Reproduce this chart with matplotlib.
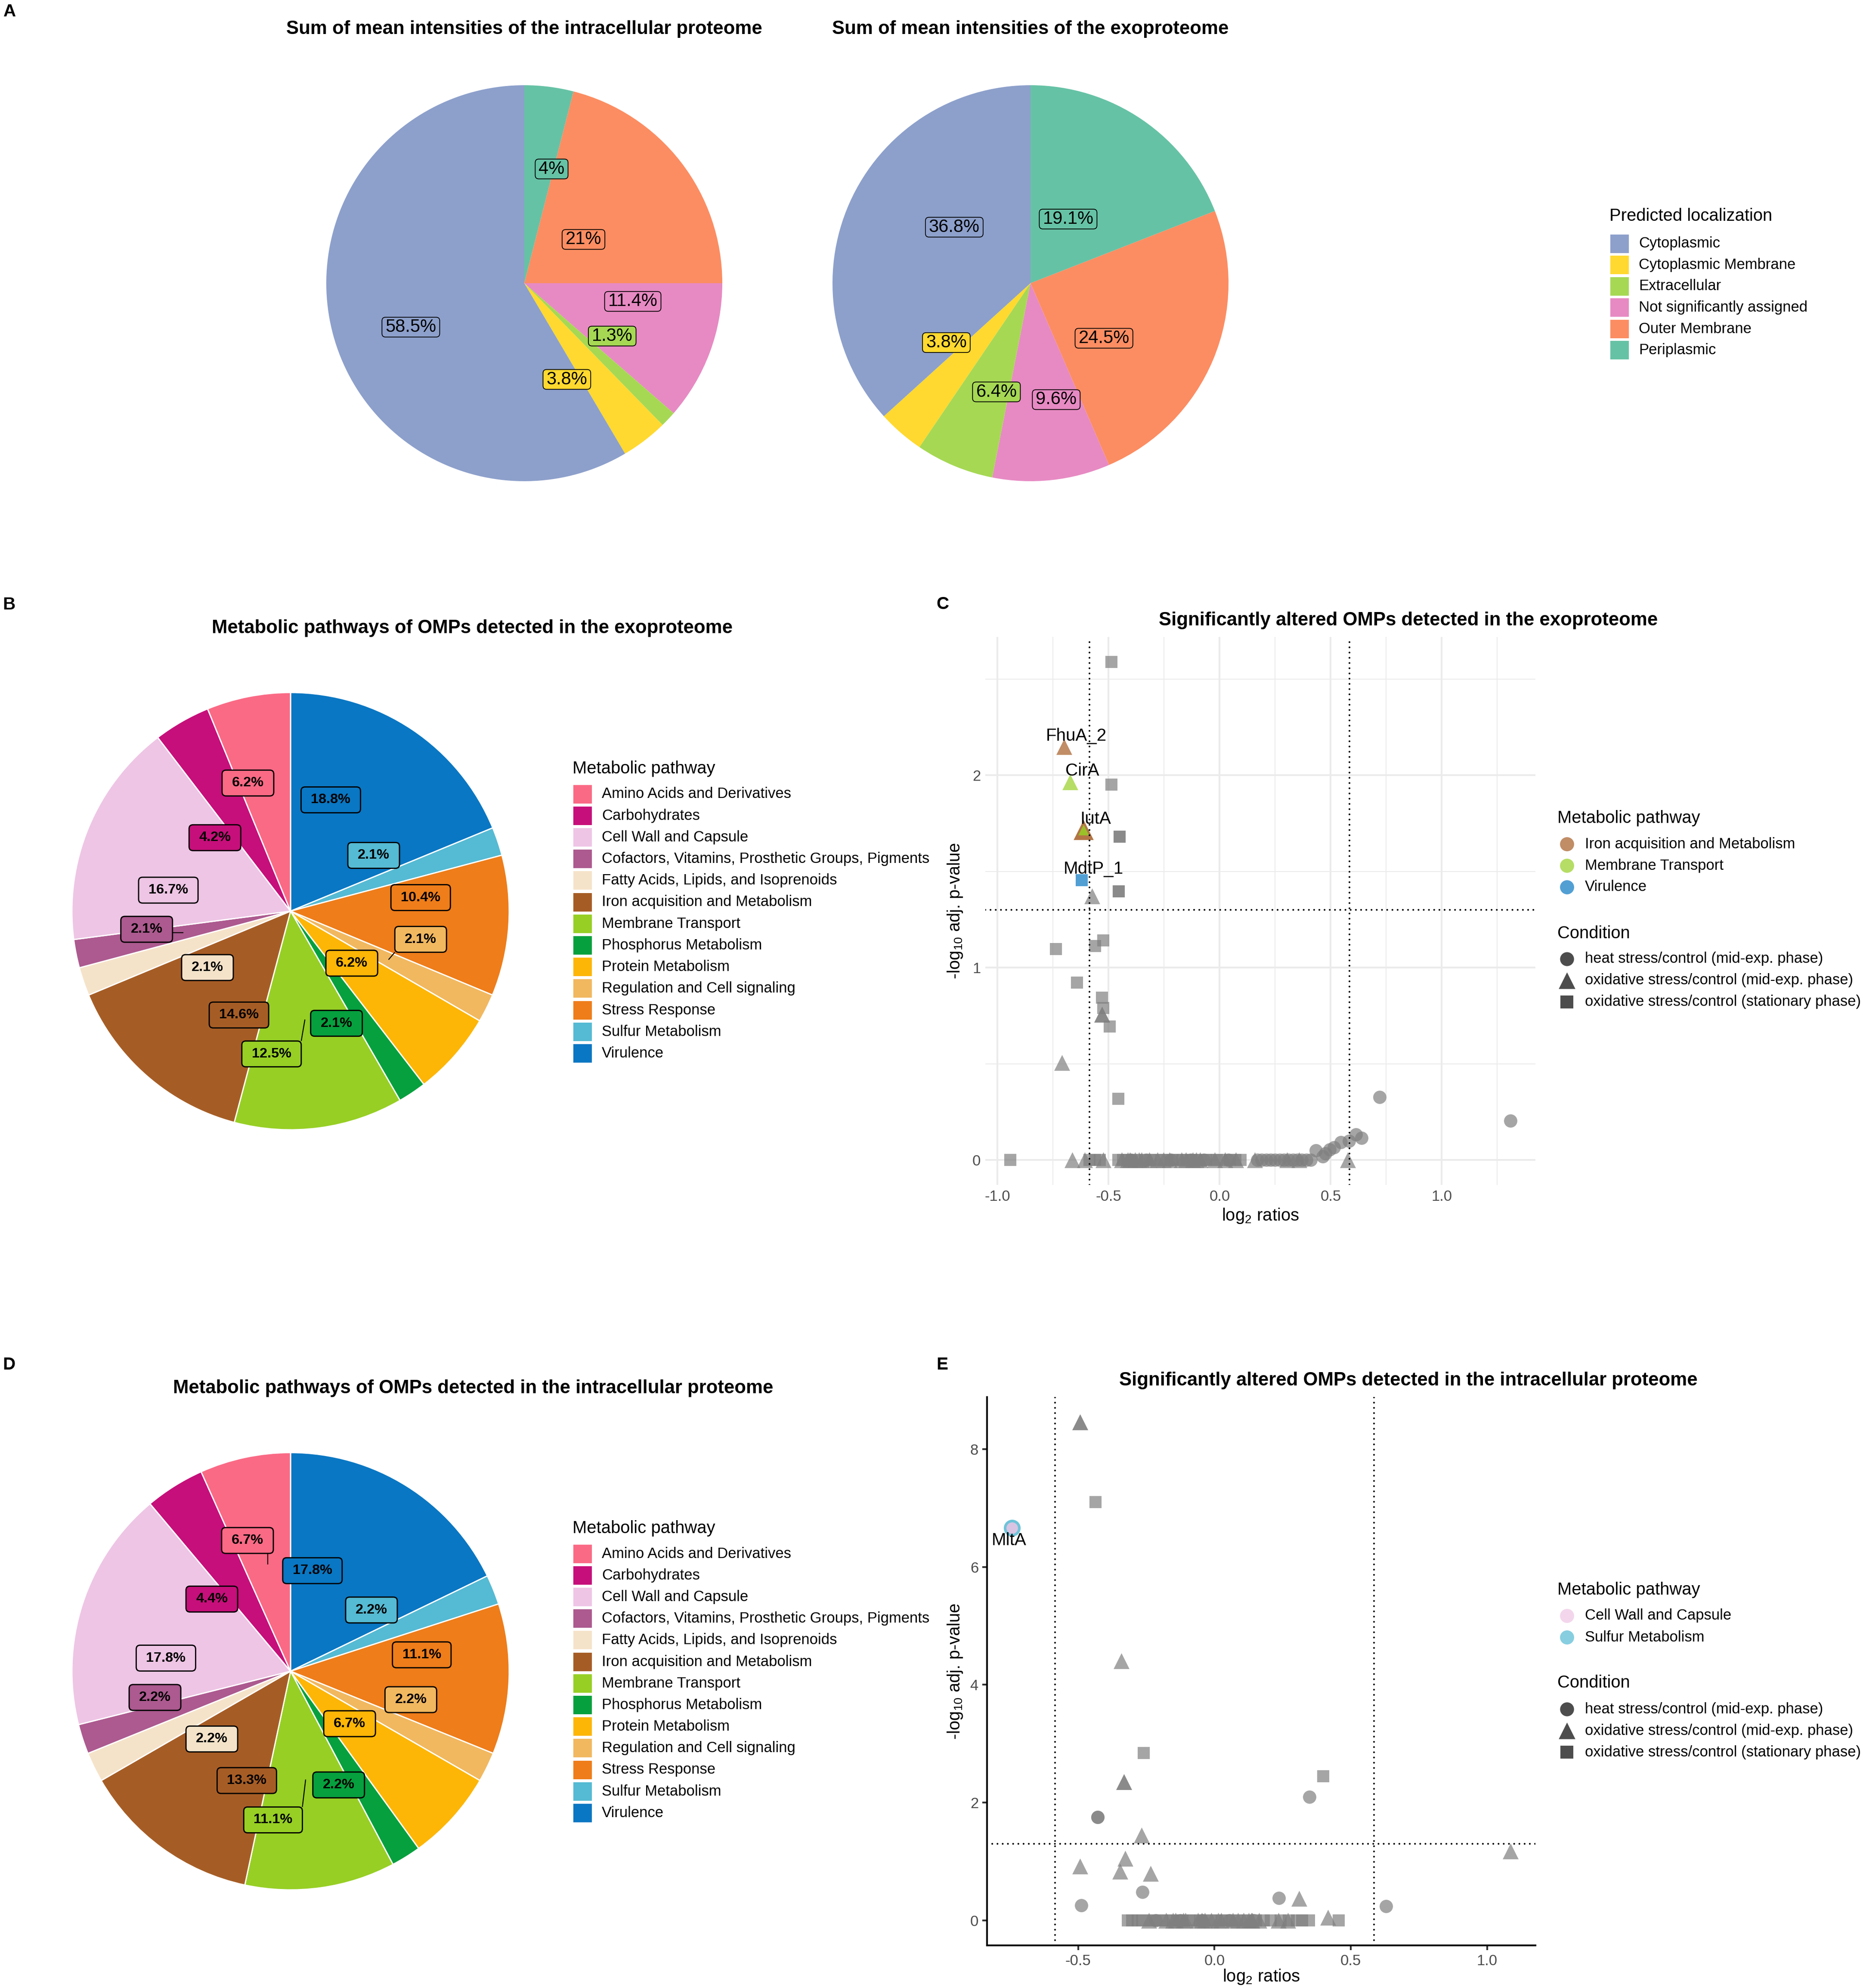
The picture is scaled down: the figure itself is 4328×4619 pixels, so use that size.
import numpy as np
import matplotlib
matplotlib.use("Agg")
import matplotlib.pyplot as plt
from matplotlib.patches import FancyBboxPatch, Rectangle
from matplotlib.ticker import FixedLocator, FormatStrFormatter

plt.rcParams["font.family"] = ["Liberation Sans", "DejaVu Sans"]
plt.rcParams["axes.unicode_minus"] = False
plt.rcParams["mathtext.fontset"] = "custom"
plt.rcParams["mathtext.rm"] = "Liberation Sans"
plt.rcParams["mathtext.it"] = "Liberation Sans:italic"
plt.rcParams["mathtext.bf"] = "Liberation Sans:bold"

W, H, DPI = 4328, 4619, 300

# ------------------------------------------------------------------ data
LOC_CATS = ["Cytoplasmic", "Cytoplasmic Membrane", "Extracellular",
            "Not significantly assigned", "Outer Membrane", "Periplasmic"]
LOC_COLORS = ["#8DA0CB", "#FFD92F", "#A6D854", "#E78AC3", "#FC8D62", "#66C2A5"]
INTRA_LOC_PCT = [58.5, 3.8, 1.3, 11.4, 21, 4]
EXO_LOC_PCT = [36.8, 3.8, 6.4, 9.6, 24.5, 19.1]

PATHWAYS = ["Amino Acids and Derivatives", "Carbohydrates", "Cell Wall and Capsule",
            "Cofactors, Vitamins, Prosthetic Groups, Pigments",
            "Fatty Acids, Lipids, and Isoprenoids", "Iron acquisition and Metabolism",
            "Membrane Transport", "Phosphorus Metabolism", "Protein Metabolism",
            "Regulation and Cell signaling", "Stress Response", "Sulfur Metabolism",
            "Virulence"]
PATH_COLORS = ["#FA6A85", "#C60F7A", "#EEC5E5", "#AC5A8F", "#F5E3C9", "#A65D25",
               "#97CF24", "#06A03E", "#FDB605", "#F1B860", "#EE7D1A", "#55BAD3",
               "#0977C3"]
EXO_PATH_PCT = [6.2, 4.2, 16.7, 2.1, 2.1, 14.6, 12.5, 2.1, 6.2, 2.1, 10.4, 2.1, 18.8]
INTRA_PATH_PCT = [6.7, 4.4, 17.8, 2.2, 2.2, 13.3, 11.1, 2.2, 6.7, 2.2, 11.1, 2.2, 17.8]

CONDITIONS = ["heat stress/control (mid-exp. phase)",
              "oxidative stress/control (mid-exp. phase)",
              "oxidative stress/control (stationary phase)"]

# Panel C (exoproteome) -- grey points per condition
C_HEAT_X = [-0.40, -0.33, -0.22, -0.13, -0.07, 0.04, 0.17, 0.19, 0.21, 0.23, 0.25, 0.27,
            0.29, 0.31, 0.33, 0.35, 0.37, 0.39, 0.41, 0.434, 0.465, 0.477, 0.496, 0.514,
            0.545, 0.583, 0.614, 0.638, 0.72, 1.309]
C_HEAT_Y = [0, 0, 0, 0, 0, 0, 0, 0, 0, 0, 0, 0, 0, 0, 0, 0, 0, 0, 0, 0.049, 0.019, 0.034,
            0.053, 0.065, 0.091, 0.099, 0.133, 0.114, 0.327, 0.203]
C_OXMID_X = [-0.575, -0.529, -0.529, -0.710, -0.663, -0.607, -0.524, -0.440, -0.413,
             -0.403, -0.380, -0.362, -0.351, -0.316, -0.279, -0.252, -0.226, -0.171,
             -0.152, -0.120, -0.105, -0.087, -0.022, 0.025, 0.074, 0.159, 0.304, 0.357,
             0.576]
C_OXMID_Y = [1.373, 0.757, 0.757, 0.507, 0, 0, 0, 0, 0, 0, 0, 0, 0, 0, 0, 0, 0, 0, 0, 0,
             0, 0, 0, 0, 0, 0, 0, 0, 0]
C_OXSTAT_X = [-0.486, -0.486, -0.451, -0.451, -0.453, -0.453, -0.523, -0.561, -0.737,
              -0.642, -0.529, -0.523, -0.494, -0.456, -0.942, -0.585, -0.560, -0.540,
              -0.455, -0.435, -0.415, -0.395, -0.372, -0.335, -0.312, -0.290, -0.262,
              -0.235, -0.212, -0.190, -0.168, -0.148, -0.128, -0.108, -0.088, -0.062,
              -0.035, -0.012, 0.018, 0.045, 0.072, 0.095]
C_OXSTAT_Y = [2.59, 1.951, 1.681, 1.681, 1.397, 1.397, 1.142, 1.112, 1.097, 0.922, 0.843,
              0.791, 0.693, 0.319, 0, 0, 0, 0, 0, 0, 0, 0, 0, 0, 0, 0, 0, 0, 0, 0, 0, 0,
              0, 0, 0, 0, 0, 0, 0, 0, 0, 0]
C_SIG_LABEL = ["FhuA_2", "CirA", "IutA", "IutA", "MdtP_1"]
C_SIG_X = [-0.700, -0.672, -0.612, -0.612, -0.621]
C_SIG_Y = [2.148, 1.966, 1.716, 1.716, 1.455]
C_SIG_COND = [1, 1, 1, 1, 2]
C_SIG_PATH = ["Iron acquisition and Metabolism", "Membrane Transport",
              "Iron acquisition and Metabolism", "Membrane Transport", "Virulence"]

# Panel E (intracellular proteome)
E_HEAT_X = [0.349, -0.428, -0.428, -0.265, 0.237, -0.489, 0.629, -0.215, -0.125, -0.045,
            0.055, 0.145]
E_HEAT_Y = [2.094, 1.754, 1.754, 0.483, 0.381, 0.258, 0.245, 0, 0, 0, 0, 0]
E_OXMID_X = [-0.493, -0.493, -0.342, -0.333, -0.333, -0.268, 1.086, -0.327, -0.493,
             -0.346, -0.235, 0.311, 0.417, -0.241, -0.177, -0.152, -0.142, -0.114, -0.106,
             -0.061, -0.047, -0.036, -0.012, 0.013, 0.025, 0.068, 0.087, 0.106, 0.126,
             0.135, 0.139, 0.163, 0.235, 0.270]
E_OXMID_Y = [8.46, 8.46, 4.405, 2.35, 2.35, 1.448, 1.176, 1.054, 0.918, 0.836, 0.795,
             0.374, 0.05, 0, 0, 0, 0, 0, 0, 0, 0, 0, 0, 0, 0, 0, 0, 0, 0, 0, 0, 0, 0, 0]
E_OXSTAT_X = [-0.436, -0.259, 0.399, 0.456, -0.318, -0.302, -0.281, -0.266, -0.238,
              -0.221, -0.193, -0.178, -0.152, -0.137, -0.118, -0.093, -0.078, -0.052,
              -0.038, -0.014, 0.006, 0.027, 0.041, 0.066, 0.083, 0.108, 0.122, 0.153,
              0.181, 0.207, 0.243, 0.272, 0.303, 0.322, 0.347]
E_OXSTAT_Y = [7.10, 2.84, 2.447, 0, 0, 0, 0, 0, 0, 0, 0, 0, 0, 0, 0, 0, 0, 0, 0, 0, 0,
              0, 0, 0, 0, 0, 0, 0, 0, 0, 0, 0, 0, 0, 0]
E_SIG_LABEL = ["MltA", "MltA"]
E_SIG_X = [-0.743, -0.743]
E_SIG_Y = [6.665, 6.665]
E_SIG_COND = [0, 0]
E_SIG_PATH = ["Sulfur Metabolism", "Cell Wall and Capsule"]

FC_CUT = np.log2(1.5)
P_CUT = -np.log10(0.05)

# ------------------------------------------------------------------ layout (label placement, radius units, x right / y down)
LAB_A_INTRA = [(-0.573, 0.222), (0.215, 0.486), (0.444, 0.267), (0.548, 0.092),
               (0.299, -0.221), (0.138, -0.577)]
LAB_A_EXO = [(-0.385, -0.283), (-0.425, 0.300), (-0.172, 0.549), (0.130, 0.588),
             (0.371, 0.278), (0.190, -0.324)]
LAB_B = [(-0.195, -0.586), (-0.346, -0.336), (-0.559, -0.096), (-0.658, 0.083),
         (-0.380, 0.258), (-0.236, 0.475), (-0.087, 0.653), (0.210, 0.513),
         (0.280, 0.238), (0.595, 0.129), (0.595, -0.062), (0.380, -0.255),
         (0.184, -0.509)]
LAB_D = [(-0.197, -0.598), (-0.360, -0.330), (-0.570, -0.060), (-0.620, 0.120),
         (-0.360, 0.310), (-0.200, 0.500), (-0.080, 0.680), (0.220, 0.520),
         (0.270, 0.240), (0.550, 0.130), (0.600, -0.075), (0.370, -0.280),
         (0.100, -0.460)]
LEADERS_B = [3, 9, 6]
LEADERS_D = [0, 6]

# ------------------------------------------------------------------ figure
fig = plt.figure(figsize=(W / DPI, H / DPI), dpi=DPI)
fig.patch.set_facecolor("white")


def px_axes(x0, y0, x1, y1):
    return fig.add_axes([x0 / W, 1 - y1 / H, (x1 - x0) / W, (y1 - y0) / H])


ov = px_axes(0, 0, W, H)
ov.set_xlim(0, W)
ov.set_ylim(H, 0)
ov.axis("off")
ov.set_zorder(10)

TAG_FS = 9.7
TITLE_FS = 10.5
LEG_TITLE_FS = 9.6
LEG_FS = 8.3

for tag, (x, y) in zip("ABCDE", [(23, 27), (21, 1405), (2190, 1404), (21, 3171), (2189, 3171)]):
    ov.text(x, y, tag, fontsize=TAG_FS, fontweight="bold", ha="center", va="center")

PIE_LABELS = []


def draw_pie(cx, cy, r, values, colors, lab_pos, fs, weight, edge_lw, pad_px, box_lw,
             leaders):
    ax = px_axes(cx - r, cy - r, cx + r, cy + r)
    vals = list(values)[::-1]
    cols = list(colors)[::-1]
    ax.pie(vals, colors=cols, startangle=90, counterclock=False, radius=1.0,
           wedgeprops=dict(linewidth=edge_lw,
                           edgecolor="white" if edge_lw > 0 else "none"))
    ax.set_xlim(-1, 1)
    ax.set_ylim(-1, 1)
    ax.set_aspect("equal")
    ax.set_autoscale_on(False)
    ax.axis("off")
    total = float(np.sum(vals))
    cum = np.concatenate([[0.0], np.cumsum(vals)[:-1]])
    n = len(values)
    for k in range(n):
        j = n - 1 - k
        mid = (cum[j] + vals[j] / 2.0) / total
        th = np.deg2rad(90 - 360 * mid)
        anchor = (0.5 * np.cos(th), 0.5 * np.sin(th))
        lx, ly = lab_pos[k]
        t = ax.text(lx, -ly, f"{values[k]:g}%", ha="center", va="center", fontsize=fs,
                    fontweight=weight, zorder=7)
        PIE_LABELS.append((ax, t, anchor, pad_px, colors[k], box_lw, k in leaders))
    return ax


def square_legend(x_left, y_title, title, names, colors, y_first, step, key=43):
    ov.text(x_left, y_title, title, fontsize=LEG_TITLE_FS, ha="left", va="center")
    for i, (nm, c) in enumerate(zip(names, colors)):
        yc = y_first + i * step
        ov.add_patch(Rectangle((x_left + 2, yc - key / 2), key, key, fc=c, ec="none"))
        ov.text(x_left + 2 + key + 23, yc, nm, fontsize=LEG_FS, ha="left", va="center")


# ---- Panel A
ov.text(1218, 67, "Sum of mean intensities of the intracellular proteome",
        fontsize=TITLE_FS, fontweight="bold", ha="center", va="center")
ov.text(2394, 67, "Sum of mean intensities of the exoproteome",
        fontsize=TITLE_FS, fontweight="bold", ha="center", va="center")
draw_pie(1218, 658, 460, INTRA_LOC_PCT, LOC_COLORS, LAB_A_INTRA, 10.0, "normal", 0,
         (8, 3), 0.45, [])
draw_pie(2394, 658, 460, EXO_LOC_PCT, LOC_COLORS, LAB_A_EXO, 10.0, "normal", 0,
         (8, 3), 0.45, [])
square_legend(3739, 502, "Predicted localization", LOC_CATS, LOC_COLORS, 566, 49.5)

# ---- Panel B
ov.text(1097, 1459, "Metabolic pathways of OMPs detected in the exoproteome",
        fontsize=TITLE_FS, fontweight="bold", ha="center", va="center")
draw_pie(675, 2117, 508, EXO_PATH_PCT, PATH_COLORS, LAB_B, 7.8, "bold", 0.7,
         (23, 15), 0.7, LEADERS_B)
square_legend(1330, 1786, "Metabolic pathway", PATHWAYS, PATH_COLORS, 1845, 50.2)

# ---- Panel D
ov.text(1099, 3225, "Metabolic pathways of OMPs detected in the intracellular proteome",
        fontsize=TITLE_FS, fontweight="bold", ha="center", va="center")
draw_pie(675, 3883, 508, INTRA_PATH_PCT, PATH_COLORS, LAB_D, 7.8, "bold", 0.7,
         (23, 15), 0.7, LEADERS_D)
square_legend(1330, 3551, "Metabolic pathway", PATHWAYS, PATH_COLORS, 3610, 50.2)

# ---- volcano panels
MARKERS = ["o", "^", "s"]
MSIZE = {"o": 55, "^": 78, "s": 48}
GRAY = "#7F7F7F"
PT_ALPHA = 0.7
TICK_COLOR = "#4D4D4D"


def path_color(name):
    return PATH_COLORS[PATHWAYS.index(name)]


def draw_volcano(box, gray_sets, sig, xticks, yticks, classic, xlab_off, ylab_off,
                 lab_offset, inner_fac):
    ax = px_axes(*box)
    sx, sy, slab, scond, spath = sig
    allx = np.concatenate([np.asarray(g[1], float) for g in gray_sets] + [np.asarray(sx, float)])
    ally = np.concatenate([np.asarray(g[2], float) for g in gray_sets] + [np.asarray(sy, float)])
    xr = allx.max() - allx.min()
    yr = ally.max() - ally.min()
    ax.set_xlim(allx.min() - 0.05 * xr, allx.max() + 0.05 * xr)
    ax.set_ylim(ally.min() - 0.05 * yr, ally.max() + 0.05 * yr)
    for cond, gx, gy in gray_sets:
        m = MARKERS[cond]
        ax.scatter(gx, gy, s=MSIZE[m], marker=m, color=GRAY, alpha=PT_ALPHA,
                   linewidths=0, zorder=2)
    pos = list(zip(sx, sy))
    for i, (x, y) in enumerate(pos):
        m = MARKERS[scond[i]]
        n_same = pos.count((x, y))
        first = pos.index((x, y)) == i
        fac = 1.0 if n_same == 1 else (1.6 if first else inner_fac)
        ax.scatter([x], [y], s=MSIZE[m] * fac, marker=m, color=path_color(spath[i]),
                   alpha=0.85 if n_same > 1 else PT_ALPHA, linewidths=0,
                   zorder=3 + i * 0.01)
    done = set()
    for i, name in enumerate(slab):
        if name in done:
            continue
        done.add(name)
        ax.annotate(name, (sx[i], sy[i]), xytext=lab_offset, textcoords="offset points",
                    ha="center", va="center", fontsize=9.7, zorder=6)
    dot = dict(color="black", lw=1.0, linestyle=(0, (0.01, 2.9)),
               dash_capstyle="round", zorder=4)
    ax.axvline(-FC_CUT, **dot)
    ax.axvline(FC_CUT, **dot)
    ax.axhline(P_CUT, **dot)

    ax.xaxis.set_major_locator(FixedLocator(xticks))
    ax.yaxis.set_major_locator(FixedLocator(yticks))
    ax.xaxis.set_major_formatter(FormatStrFormatter("%.1f"))
    ax.yaxis.set_major_formatter(FormatStrFormatter("%d"))
    ax.tick_params(labelsize=LEG_FS, labelcolor=TICK_COLOR)
    ax.set_facecolor("none")
    if classic:
        for s in ["top", "right"]:
            ax.spines[s].set_visible(False)
        for s in ["left", "bottom"]:
            ax.spines[s].set_linewidth(1.0)
            ax.spines[s].set_color("black")
        ax.tick_params(length=2.6, width=1.0, color="#333333", pad=2.2)
    else:
        for s in ax.spines.values():
            s.set_visible(False)
        xlo, xhi = ax.get_xlim()
        ylo, yhi = ax.get_ylim()
        dx = xticks[1] - xticks[0]
        dy = yticks[1] - yticks[0]
        mx = [v for v in np.arange(xticks[0] - dx / 2, xhi, dx) if xlo <= v <= xhi]
        my = [v for v in np.arange(yticks[0] - dy / 2, yhi, dy) if ylo <= v <= yhi]
        ax.xaxis.set_minor_locator(FixedLocator(mx))
        ax.yaxis.set_minor_locator(FixedLocator(my))
        ax.grid(True, which="major", color="#EBEBEB", lw=1.0)
        ax.grid(True, which="minor", color="#EBEBEB", lw=0.5)
        ax.set_axisbelow(True)
        ax.tick_params(which="both", length=0, pad=2.6)
    ax.set_xlabel(r"log$_2$ ratios", fontsize=LEG_TITLE_FS)
    ax.set_ylabel(r"-log$_{10}$ adj. p-value", fontsize=LEG_TITLE_FS)
    ax.xaxis.set_label_coords(0.5, xlab_off)
    ax.yaxis.set_label_coords(ylab_off, 0.5)
    ax.xaxis.label.set_va("center")
    ax.yaxis.label.set_va("center")
    return ax


def point_legend(x_left, y_title, paths, y_items, y_cond_title, y_cond_items):
    kx = x_left + 22
    tx = x_left + 64
    ov.text(x_left, y_title, "Metabolic pathway", fontsize=LEG_TITLE_FS, ha="left",
            va="center")
    for p, y in zip(paths, y_items):
        ov.scatter([kx], [y], s=62, marker="o", color=path_color(p), alpha=PT_ALPHA,
                   linewidths=0)
        ov.text(tx, y, p, fontsize=LEG_FS, ha="left", va="center")
    ov.text(x_left, y_cond_title, "Condition", fontsize=LEG_TITLE_FS, ha="left",
            va="center")
    for c, m, y in zip(CONDITIONS, MARKERS, y_cond_items):
        ov.scatter([kx], [y], s=MSIZE[m] * 1.1, marker=m, color="#4D4D4D", linewidths=0)
        ov.text(tx, y, c, fontsize=LEG_FS, ha="left", va="center")


# ---- Panel C
ov.text(3272, 1442, "Significantly altered OMPs detected in the exoproteome",
        fontsize=TITLE_FS, fontweight="bold", ha="center", va="center")
draw_volcano((2289, 1480, 3567, 2753),
             [(0, C_HEAT_X, C_HEAT_Y), (1, C_OXMID_X, C_OXMID_Y), (2, C_OXSTAT_X, C_OXSTAT_Y)],
             (C_SIG_X, C_SIG_Y, C_SIG_LABEL, C_SIG_COND, C_SIG_PATH),
             [-1.0, -0.5, 0.0, 0.5, 1.0], [0, 1, 2], False,
             -(2824.5 - 2753) / 1273, -(2289 - 2219) / 1278, (6.7, 6.2), 0.45)
c_paths = [p for p in PATHWAYS if p in C_SIG_PATH]
point_legend(3618, 1901, c_paths, [1961, 2011, 2061], 2169, [2228, 2278, 2328])

# ---- Panel E
ov.text(3272, 3208, "Significantly altered OMPs detected in the intracellular proteome",
        fontsize=TITLE_FS, fontweight="bold", ha="center", va="center")
draw_volcano((2293, 3246, 3567, 4520),
             [(0, E_HEAT_X, E_HEAT_Y), (1, E_OXMID_X, E_OXMID_Y), (2, E_OXSTAT_X, E_OXSTAT_Y)],
             (E_SIG_X, E_SIG_Y, E_SIG_LABEL, E_SIG_COND, E_SIG_PATH),
             [-0.5, 0.0, 0.5, 1.0], [0, 2, 4, 6, 8], True,
             -(4592.7 - 4520) / 1274, -(2293 - 2219) / 1274, (-1.6, -7.0), 0.75)
e_paths = [p for p in PATHWAYS if p in E_SIG_PATH]
point_legend(3618, 3694, e_paths, [3754, 3804], 3910, [3971, 4021, 4071])

# ---- label boxes on pies (sized from rendered text)
fig.canvas.draw()
rend = fig.canvas.get_renderer()
for ax, t, anchor, (padx, pady), fc, lw, leader in PIE_LABELS:
    bb = t.get_window_extent(rend)
    inv = ax.transData.inverted()
    (x0, y0), (x1, y1) = inv.transform([(bb.x0 - padx, bb.y0 - pady),
                                        (bb.x1 + padx, bb.y1 + pady)])
    rs = 0.018
    ax.add_patch(FancyBboxPatch((x0, y0), x1 - x0, y1 - y0,
                                boxstyle=f"round,pad=0,rounding_size={rs}",
                                fc=fc, ec="black", lw=lw, zorder=6))
    if leader:
        axx, ayy = anchor
        qx = min(max(axx, x0), x1)
        qy = min(max(ayy, y0), y1)
        ax.plot([axx, qx], [ayy, qy], color="black", lw=0.55, zorder=5,
                solid_capstyle="butt")

fig.savefig("out.png", dpi=DPI, facecolor="white")
